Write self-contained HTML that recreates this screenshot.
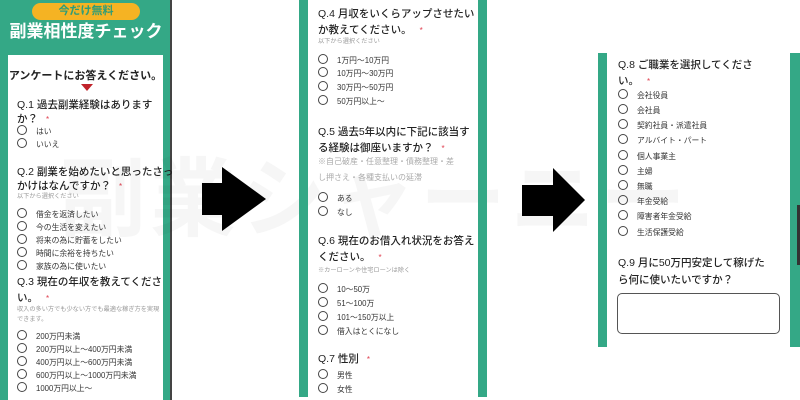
<!DOCTYPE html>
<html><head><meta charset="utf-8"><style>
*{margin:0;padding:0;box-sizing:border-box}
body{width:800px;height:400px;position:relative;overflow:hidden;background:#fff;font-family:"Liberation Sans","Noto Sans CJK JP",sans-serif;color:#222}
.a{position:absolute;white-space:nowrap}
.g{position:absolute;background:#34a886}
.q{font-size:10.5px;line-height:14px;font-weight:500}
.o{font-size:7.8px;line-height:11px;color:#333}
.o:before{content:"";display:inline-block;width:8px;height:8px;border:1px solid #444;border-radius:50%;margin-right:9px;vertical-align:-1px}
.s{font-size:6.2px;line-height:9px;color:#999}
.r{color:#e04050;font-size:8px;margin-left:8px}
</style></head><body>
<!-- panel 1 -->
<div class="g" style="left:0;top:0;width:172px;height:400px"></div>
<div class="a" style="left:170px;top:0;width:2px;height:400px;background:#444"></div>
<div class="a" style="left:8px;top:55px;width:155px;height:345px;background:#fff"></div>
<div class="a" style="left:32px;top:3px;width:108px;height:17px;background:#f5b323;border-radius:9px;color:#2e9c78;font-weight:bold;font-size:11px;line-height:17px;text-align:center">今だけ無料</div>
<div class="a" style="left:0;top:20px;width:172px;text-align:center;color:#fff;font-weight:bold;font-size:17px;line-height:24px">副業相性度チェック</div>
<div class="a" style="left:8px;top:67px;width:155px;text-align:center;font-weight:bold;font-size:11px">アンケートにお答えください。</div>
<div class="a" style="left:81px;top:84px;width:0;height:0;border-left:6px solid transparent;border-right:6px solid transparent;border-top:7px solid #c0222a"></div>
<div class="a q" style="left:17px;top:98px">Q.1 過去副業経験はあります<br>か？<span class="r">*</span></div>
<div class="a o" style="left:17px;top:125px">はい</div>
<div class="a o" style="left:17px;top:138px">いいえ</div>
<div class="a q" style="left:17px;top:165px">Q.2 副業を始めたいと思ったさっ<br>かけはなんですか？<span class="r">*</span></div>
<div class="a s" style="left:17px;top:192px">以下から選択ください</div>
<div class="a o" style="left:17px;top:208px">借金を返済したい</div>
<div class="a o" style="left:17px;top:221px">今の生活を変えたい</div>
<div class="a o" style="left:17px;top:234px">将来の為に貯蓄をしたい</div>
<div class="a o" style="left:17px;top:247px">時間に余裕を持ちたい</div>
<div class="a o" style="left:17px;top:260px">家族の為に使いたい</div>
<div class="a q" style="left:17px;top:274px;line-height:16px">Q.3 現在の年収を教えてくださ<br>い。<span class="r">*</span></div>
<div class="a s" style="left:17px;top:305px;line-height:10px">収入の多い方でも少ない方でも最適な稼ぎ方を実現<br>できます。</div>
<div class="a o" style="left:17px;top:330px">200万円未満</div>
<div class="a o" style="left:17px;top:343px">200万円以上〜400万円未満</div>
<div class="a o" style="left:17px;top:356px">400万円以上〜600万円未満</div>
<div class="a o" style="left:17px;top:369px">600万円以上〜1000万円未満</div>
<div class="a o" style="left:17px;top:382px">1000万円以上〜</div>
<!-- watermark -->
<div class="a" style="left:60px;top:150px;font-size:86px;line-height:100px;font-weight:bold;color:rgba(0,0,0,0.035);letter-spacing:4px">副業シャーニー</div>
<!-- arrows -->
<svg class="a" style="left:0;top:0" width="800" height="400"><polygon points="202,183 222,183 222,167 266,199 222,231 222,215 202,215" fill="#000"/><polygon points="522,185 553,185 553,168 585,200 553,232 553,216 522,216" fill="#000"/></svg>
<!-- panel 2 -->
<div class="g" style="left:299px;top:0;width:9px;height:397px"></div>
<div class="g" style="left:478px;top:0;width:9px;height:397px"></div>
<div class="a q" style="left:318px;top:6px;line-height:16px">Q.4 月収をいくらアップさせたい<br>か教えてください。<span class="r">*</span></div>
<div class="a s" style="left:318px;top:37px">以下から選択ください</div>
<div class="a o" style="left:318px;top:54px">1万円〜10万円</div>
<div class="a o" style="left:318px;top:67px">10万円〜30万円</div>
<div class="a o" style="left:318px;top:81px">30万円〜50万円</div>
<div class="a o" style="left:318px;top:95px">50万円以上〜</div>
<div class="a q" style="left:318px;top:124px;line-height:16px">Q.5 過去5年以内に下記に該当す<br>る経験は御座いますか？<span class="r">*</span></div>
<div class="a" style="left:318px;top:154px;font-size:8px;line-height:16px;color:#aaa">※自己破産・任意整理・債務整理・差<br>し押さえ・各種支払いの延滞</div>
<div class="a o" style="left:318px;top:192px">ある</div>
<div class="a o" style="left:318px;top:206px">なし</div>
<div class="a q" style="left:318px;top:233px;line-height:16px">Q.6 現在のお借入れ状況をお答え<br>ください。<span class="r">*</span></div>
<div class="a s" style="left:318px;top:266px">※カーローンや住宅ローンは除く</div>
<div class="a o" style="left:318px;top:283px">10〜50万</div>
<div class="a o" style="left:318px;top:297px">51〜100万</div>
<div class="a o" style="left:318px;top:311px">101〜150万以上</div>
<div class="a o" style="left:318px;top:325px">借入はとくになし</div>
<div class="a q" style="left:318px;top:352px">Q.7 性別<span class="r">*</span></div>
<div class="a o" style="left:318px;top:369px">男性</div>
<div class="a o" style="left:318px;top:383px">女性</div>
<!-- panel 3 -->
<div class="g" style="left:598px;top:53px;width:9px;height:294px"></div>
<div class="g" style="left:790px;top:53px;width:10px;height:294px"></div>
<div class="a" style="left:797px;top:205px;width:3px;height:60px;background:#333"></div>
<div class="a q" style="left:618px;top:57px;line-height:16px">Q.8 ご職業を選択してくださ<br>い。<span class="r">*</span></div>
<div class="a o" style="left:618px;top:89px">会社役員</div>
<div class="a o" style="left:618px;top:104px">会社員</div>
<div class="a o" style="left:618px;top:119px">契約社員・派遣社員</div>
<div class="a o" style="left:618px;top:134px">アルバイト・パート</div>
<div class="a o" style="left:618px;top:150px">個人事業主</div>
<div class="a o" style="left:618px;top:165px">主婦</div>
<div class="a o" style="left:618px;top:180px">無職</div>
<div class="a o" style="left:618px;top:195px">年金受給</div>
<div class="a o" style="left:618px;top:210px">障害者年金受給</div>
<div class="a o" style="left:618px;top:226px">生活保護受給</div>
<div class="a q" style="left:618px;top:255px;line-height:17px">Q.9 月に50万円安定して稼げた<br>ら何に使いたいですか？</div>
<div class="a" style="left:617px;top:293px;width:163px;height:41px;border:1px solid #555;border-radius:5px"></div>
</body></html>
